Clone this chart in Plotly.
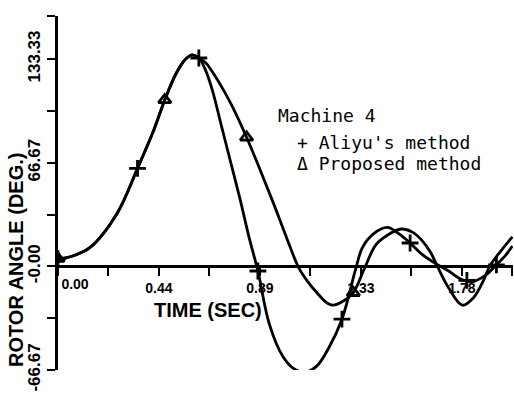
import plotly.graph_objects as go

# ---- data ----
t_aliyu = [0.00, 0.05, 0.14, 0.26, 0.35, 0.42, 0.47, 0.52, 0.56, 0.59, 0.62, 0.65, 0.68, 0.72, 0.76,
           0.80, 0.844, 0.88, 0.93, 0.99, 1.04, 1.09, 1.14, 1.19, 1.25, 1.31, 1.34, 1.39, 1.45, 1.50,
           1.55, 1.60, 1.66, 1.72, 1.77, 1.82, 1.88, 1.93, 1.97, 2.00]
v_aliyu = [5, 6, 12, 34, 63, 87, 107, 124, 133, 136, 134, 126, 113, 90, 67,
           44, 17, -3, -37, -58, -66, -68, -64, -53, -34, -2, 12, 21, 25, 21,
           15, 8, 2, -3, -8, -10, -6, 1, 7, 13]

t_prop = [0.00, 0.05, 0.14, 0.26, 0.35, 0.42, 0.47, 0.52, 0.56, 0.59, 0.62, 0.65, 0.68, 0.73, 0.77,
          0.83, 0.89, 0.95, 1.01, 1.06, 1.10, 1.14, 1.18, 1.21, 1.26, 1.30, 1.35, 1.40, 1.45, 1.51,
          1.56, 1.60, 1.64, 1.67, 1.72, 1.78, 1.83, 1.87, 1.90, 1.95, 2.00]
v_prop = [5, 6, 12, 34, 63, 87, 107, 124, 133, 136, 134, 131, 125, 113, 102,
          83, 62, 40, 17, -1, -10, -17, -23, -25, -22, -17, -1, 14, 20, 24,
          22, 17, 9, 0, -14, -25, -20, -10, 0, 10, 19]

t_aliyu_mk = [0.00, 0.35, 0.62, 0.88, 1.25, 1.55, 1.80, 1.93]
v_aliyu_mk = [5, 63, 134, -3, -34, 15, -9, 1]
t_prop_mk = [0.00, 0.47, 0.83, 1.30]
v_prop_mk = [5, 107, 83, -17]

x_tickvals = [0, 0.2222, 0.4444, 0.6667, 0.8889, 1.1111, 1.3333, 1.5556, 1.7778, 2.0]
x_ticktext = ["", "", "0.44", "", "0.89", "", "1.33", "", "1.78", ""]
x_first_label = "0.00"
y_tickvals = [-66.67, -33.33, 0, 33.33, 66.67, 100, 133.33, 161]
y_ticktext = ["-66.67", "", "-0.00", "", "66.67", "", "133.33", ""]

legend_title = "Machine 4"
legend_lines = ["+ Aliyu's method", "\u0394 Proposed method"]

# ---- layout geometry ----
W, H = 514, 398
ML, MR, MT, MB = 58, 1, 16, 28
XR = [0, 2.003]
YR = [-66.67, 161]
pw, ph = W - ML - MR, H - MT - MB


def px(xp, yp):
    return (xp - ML) / pw, (H - MB - yp) / ph


LW = 2.8
fig = go.Figure()
fig.add_trace(go.Scatter(x=t_aliyu, y=v_aliyu, mode="lines",
                         line=dict(color="black", width=LW, shape="spline", smoothing=1.0),
                         hoverinfo="skip"))
fig.add_trace(go.Scatter(x=t_prop, y=v_prop, mode="lines",
                         line=dict(color="black", width=LW, shape="spline", smoothing=1.0),
                         hoverinfo="skip"))
fig.add_trace(go.Scatter(x=t_aliyu_mk, y=v_aliyu_mk, mode="markers",
                         marker=dict(symbol="cross-thin", size=12, line=dict(color="black", width=2.8))))
fig.add_trace(go.Scatter(x=t_prop_mk, y=v_prop_mk, mode="markers",
                         marker=dict(symbol="triangle-up-open", size=11, color="black",
                                     line=dict(color="black", width=2.8))))
# invisible trace so the overlay axis carrying the first x label is drawn
fig.add_trace(go.Scatter(x=[x_tickvals[0]], y=[0], xaxis="x2", mode="markers",
                         marker=dict(opacity=0), hoverinfo="skip"))

zero_pos = (0 - YR[0]) / (YR[1] - YR[0])
tick_font_x = dict(family="Liberation Sans", size=14, color="black", weight="bold")

fig.update_layout(
    width=W, height=H, margin=dict(l=ML, r=MR, t=MT, b=MB),
    paper_bgcolor="white", plot_bgcolor="white", showlegend=False,
    xaxis=dict(range=XR, showgrid=False, zeroline=False, showline=True, linecolor="black",
               linewidth=LW, anchor="free", position=zero_pos,
               tickmode="array", tickvals=x_tickvals, ticktext=x_ticktext,
               ticks="outside", ticklen=8, tickwidth=2.2, tickcolor="black",
               tickfont=tick_font_x),
    xaxis2=dict(range=XR, overlaying="x", anchor="free", position=zero_pos, side="bottom",
                showgrid=False, zeroline=False, showline=False, ticks="",
                tickmode="array", tickvals=[x_tickvals[0]], ticktext=[x_first_label],
                ticklabelshift=17, ticklabelstandoff=8, tickfont=tick_font_x),
    yaxis=dict(range=YR, showgrid=False, zeroline=False, showline=True, linecolor="black",
               linewidth=LW, tickmode="array", tickvals=y_tickvals, ticktext=y_ticktext,
               ticks="outside", ticklen=8, tickwidth=2.2, tickcolor="black", tickangle=-90,
               tickfont=dict(family="Liberation Sans", size=17, color="black", weight="bold")),
)

ann = []
x0, y0 = px(208, 310)
ann.append(dict(text="TIME (SEC)", x=x0, y=y0, xref="paper", yref="paper", showarrow=False,
                xanchor="center", yanchor="middle",
                font=dict(family="Liberation Sans", size=20, color="black", weight="bold")))
x0, y0 = px(16, 260)
ann.append(dict(text="ROTOR ANGLE (DEG.)", x=x0, y=y0, xref="paper", yref="paper", showarrow=False,
                textangle=-90, xanchor="center", yanchor="middle",
                font=dict(family="Liberation Sans", size=20, color="black", weight="bold")))
x0, y0 = px(276, 115)
ann.append(dict(text=legend_title, x=x0, y=y0, xref="paper", yref="paper", showarrow=False,
                xanchor="left", yanchor="middle",
                font=dict(family="DejaVu Sans Mono", size=18, color="black")))
for i, yy in enumerate([142, 163]):
    x0, y0 = px(295, yy)
    ann.append(dict(text=legend_lines[i], x=x0, y=y0, xref="paper", yref="paper", showarrow=False,
                    xanchor="left", yanchor="middle",
                    font=dict(family="DejaVu Sans Mono", size=18, color="black")))
fig.update_layout(annotations=ann)

fig.write_html("out.html")
